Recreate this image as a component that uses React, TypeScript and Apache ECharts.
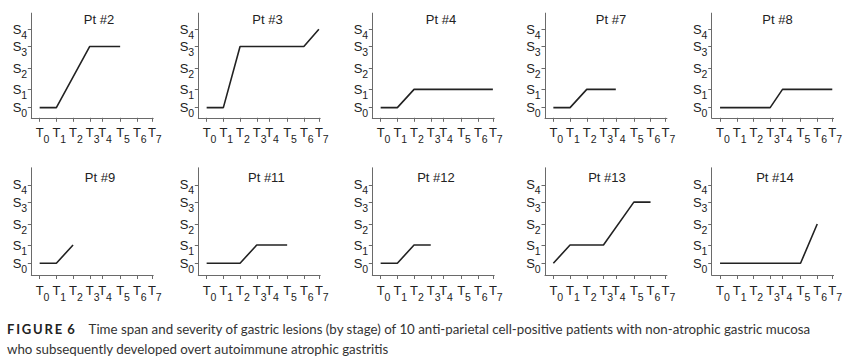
import React, { useEffect, useRef } from "react";
import * as echarts from "echarts";

// ---- Data ----
const T_LABELS = ["0", "1", "2", "3", "4", "5", "6", "7"];
const T_POS = [0, 1, 2, 3, 3.74, 4.82, 5.82, 6.72];
const S_LABELS = ["0", "1", "2", "3", "4"];
const S_POS = [0, 0.93, 2.0, 3.12, 4.0];

const PATIENTS = ["Pt #2", "Pt #3", "Pt #4", "Pt #7", "Pt #8", "Pt #9", "Pt #11", "Pt #12", "Pt #13", "Pt #14"];
// [time index, stage index]
const PT2 = [[0, 0], [1, 0], [3, 3], [5, 3]];
const PT3 = [[0, 0], [1, 0], [2, 3], [6, 3], [7, 4]];
const PT4 = [[0, 0], [1, 0], [2, 1], [7, 1]];
const PT7 = [[0, 0], [1, 0], [2, 1], [4, 1]];
const PT8 = [[0, 0], [3, 0], [4, 1], [7, 1]];
const PT9 = [[0, 0], [1, 0], [2, 1]];
const PT11 = [[0, 0], [2, 0], [3, 1], [5, 1]];
const PT12 = [[0, 0], [1, 0], [2, 1], [3, 1]];
const PT13 = [[0, 0], [1, 1], [3, 1], [5, 3], [6, 3]];
const PT14 = [[0, 0], [5, 0], [6, 2]];
const SERIES = [PT2, PT3, PT4, PT7, PT8, PT9, PT11, PT12, PT13, PT14];

const CAPTION_LABEL = "FIGURE 6";
const CAPTION_LINE1 = "Time span and severity of gastric lesions (by stage) of 10 anti-parietal cell-positive patients with non-atrophic gastric mucosa";
const CAPTION_LINE2 = "who subsequently developed overt autoimmune atrophic gastritis";

// ---- Layout ----
const COL_LEFT = [31.3, 198.3, 372.3, 545, 711.7];
const X_UNIT = 16.7;
const X_MIN = -0.5;
const X_MAX = 6.8;
const Y_UNIT = 19.6;
const ROWS = [
  { bottom: 117.8, yMin: -0.52, yMax: 4.82, titleY: 19.3 },
  { bottom: 275, yMin: -0.6, yMax: 4.87, titleY: 177.5 },
];
const TITLE_X = [99, 267.5, 441, 611, 777.5, 100, 266.3, 436, 607, 775];

const AXIS = "#6a6a6a";
const INK = "#222";
const FONT = "Liberation Sans";
const MAIN_SIZE = 13;
const SUB_SIZE = 10.5;

function idxOf(arr: number[], v: number) {
  let best = 0;
  for (let i = 1; i < arr.length; i++) {
    if (Math.abs(arr[i] - v) < Math.abs(arr[best] - v)) best = i;
  }
  return best;
}

export default function App() {
  const ref = useRef<HTMLDivElement>(null);

  useEffect(() => {
    if (!ref.current) return;
    const chart = echarts.init(ref.current, undefined, { renderer: "svg" });

    const grids: any[] = [];
    const xAxes: any[] = [];
    const yAxes: any[] = [];
    const series: any[] = [];
    const graphics: any[] = [];

    const hidden = {
      axisLine: { show: false },
      axisTick: { show: false },
      splitLine: { show: false },
    };

    SERIES.forEach((pts, i) => {
      const row = ROWS[i < 5 ? 0 : 1];
      const col = i % 5;
      const height = (row.yMax - row.yMin) * Y_UNIT;
      grids.push({
        left: COL_LEFT[col],
        top: row.bottom - height,
        width: (X_MAX - X_MIN) * X_UNIT,
        height,
        outerBoundsMode: "none",
        containLabel: false,
      });

      // main x axis: line, ticks, "T" letters
      xAxes.push({
        type: "value",
        gridIndex: i,
        position: "bottom",
        min: X_MIN,
        max: X_MAX,
        axisLine: { show: true, onZero: false, lineStyle: { color: AXIS, width: 1 } },
        axisTick: { show: true, customValues: T_POS, length: 4, lineStyle: { color: AXIS, width: 1 } },
        splitLine: { show: false },
        axisLabel: {
          show: true,
          showMinLabel: true,
          showMaxLabel: true,
          hideOverlap: false,
          customValues: T_POS,
          margin: 8,
          lineHeight: 14,
          fontFamily: FONT,
          fontSize: MAIN_SIZE,
          color: INK,
          formatter: () => "T",
        },
      });
      // overlay x axis: subscript indices
      xAxes.push({
        type: "value",
        gridIndex: i,
        position: "bottom",
        min: X_MIN,
        max: X_MAX,
        ...hidden,
        axisLabel: {
          show: true,
          showMinLabel: true,
          showMaxLabel: true,
          hideOverlap: false,
          customValues: T_POS,
          margin: 16,
          align: "left",
          lineHeight: 11,
          padding: [0, 0, 0, 3.9],
          fontFamily: FONT,
          fontSize: SUB_SIZE,
          color: INK,
          formatter: (v: number) => T_LABELS[idxOf(T_POS, v)],
        },
      });

      // main y axis: line, ticks, "S" letters
      yAxes.push({
        type: "value",
        gridIndex: i,
        position: "left",
        min: row.yMin,
        max: row.yMax,
        axisLine: { show: true, onZero: false, lineStyle: { color: AXIS, width: 1 } },
        axisTick: { show: true, customValues: S_POS, length: 3.5, lineStyle: { color: AXIS, width: 1 } },
        splitLine: { show: false },
        axisLabel: {
          show: true,
          showMinLabel: true,
          showMaxLabel: true,
          hideOverlap: false,
          customValues: S_POS,
          margin: 10,
          lineHeight: 14,
          fontFamily: FONT,
          fontSize: MAIN_SIZE,
          color: INK,
          formatter: () => "S",
        },
      });
      // overlay y axis: subscript indices
      yAxes.push({
        type: "value",
        gridIndex: i,
        position: "left",
        min: row.yMin,
        max: row.yMax,
        ...hidden,
        axisLabel: {
          show: true,
          showMinLabel: true,
          showMaxLabel: true,
          hideOverlap: false,
          customValues: S_POS,
          margin: 4.3,
          verticalAlign: "top",
          lineHeight: 11,
          fontFamily: FONT,
          fontSize: SUB_SIZE,
          color: INK,
          formatter: (v: number) => S_LABELS[idxOf(S_POS, v)],
        },
      });

      series.push({
        type: "line",
        xAxisIndex: 2 * i,
        yAxisIndex: 2 * i,
        data: pts.map(([t, s]) => [T_POS[t], S_POS[s]]),
        showSymbol: false,
        symbol: "none",
        silent: true,
        lineStyle: { color: INK, width: 1.6 },
      });
      graphics.push({
        type: "text",
        x: TITLE_X[i],
        y: row.titleY,
        style: {
          text: PATIENTS[i],
          fontFamily: FONT,
          fontSize: 13,
          fill: INK,
          align: "center",
          verticalAlign: "middle",
        },
      });
    });

    const labelTokens = CAPTION_LABEL.split("")
      .map((c) => (c === " " ? "{sp| }" : `{b|${c}}`))
      .join("");

    graphics.push({
      type: "text",
      x: 7,
      y: 329,
      style: {
        text: `${labelTokens}{r|${CAPTION_LINE1}}`,
        verticalAlign: "middle",
        rich: {
          b: { fontFamily: "Lato", fontWeight: "bold", fontSize: 13, fill: INK, padding: [0, 1.8, 0, 0] },
          sp: { fontFamily: "Lato", fontSize: 13, fill: INK },
          r: { fontFamily: "Lato", fontSize: 13.3, fill: "#333", padding: [0, 0, 0, 12] },
        },
      },
    });
    graphics.push({
      type: "text",
      x: 7,
      y: 349,
      style: {
        text: CAPTION_LINE2,
        fontFamily: "Lato",
        fontSize: 13.3,
        fill: "#333",
        verticalAlign: "middle",
      },
    });

    chart.setOption({
      animation: false,
      backgroundColor: "#fff",
      grid: grids,
      xAxis: xAxes,
      yAxis: yAxes,
      series,
      graphic: graphics,
    });

    return () => chart.dispose();
  }, []);

  return (
    <div
      ref={ref}
      style={{ position: "absolute", left: 0, top: 0, width: 848, height: 364 }}
    />
  );
}
